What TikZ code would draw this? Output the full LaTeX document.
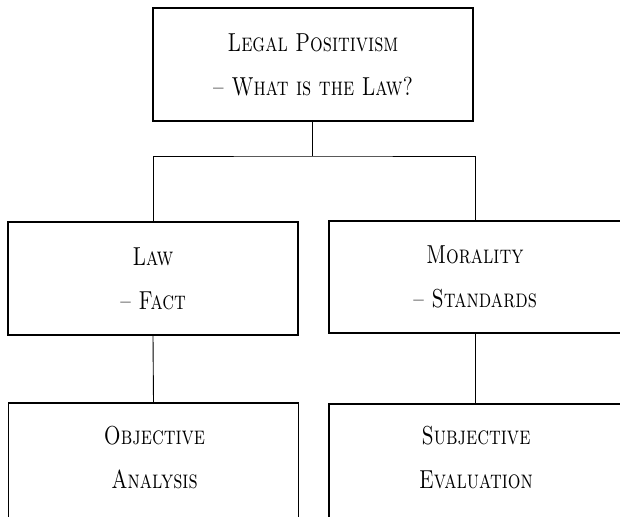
\documentclass[tikz,border=0pt]{standalone}
\usepackage{graphicx}
\newcommand{\tallsc}[1]{\scalebox{1}[1.3]{\textsc{#1}}}
\tikzset{
  box/.style={draw, line width=0.8pt, rectangle, inner sep=0pt,
    minimum width=#1, align=center,
    font=\fontsize{10}{22}\selectfont},
  box/.default=145pt,
  label text/.style={font=\fontsize{10}{22}\selectfont, align=center, anchor=base},
  link/.style={draw, line width=0.45pt}
}
\begin{document}
\begin{tikzpicture}[x=0.5pt, y=-0.5pt]
  \clip (0,0) rectangle (620,517);
  \fill[white] (0,0) rectangle (620,517);

  % root of the tree
  \node[box=160pt, minimum height=56.5pt] (root) at (313,64.5)
    {\tallsc{Legal Positivism}\\ \tallsc{-- What is the Law?}};

  % middle level
  \node[box, minimum height=56.5pt] (law) at (153,278.5)
    {\tallsc{Law}\\ \tallsc{-- Fact}};
  \node[box=146pt, minimum height=56pt] (moral) at (475,277)
    {\tallsc{Morality}\\ \tallsc{-- Standards}};

  % bottom level (runs past the lower edge)
  \node[box, minimum height=60pt] (obj) at (153.5,463) {};
  \node[box=146pt, minimum height=60pt] (subj) at (475,464) {};
  \node[label text] (objtext) at (154.5,488)
    {\tallsc{Objective}\\ \tallsc{Analysis}};
  \node[label text] (subjtext) at (476,488)
    {\tallsc{Subjective}\\ \tallsc{Evaluation}};

  % connectors
  \coordinate (fork) at (312,156);
  \draw[link] (root.south -| fork) -- (fork);
  \draw[link] (law.north) |- (fork) -| (moral.north);
  \draw[link] (law.south) -- (obj.north);
  \draw[link] (moral.south) -- (subj.north);
\end{tikzpicture}
\end{document}
